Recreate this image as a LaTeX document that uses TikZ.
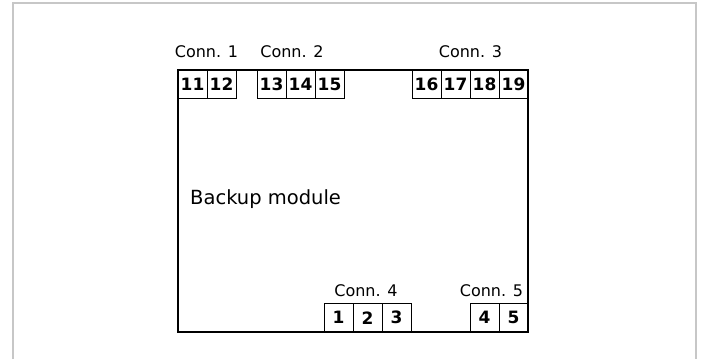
\documentclass[tikz,border=0pt]{standalone}
\usepackage{fontspec}
\setmainfont{DejaVu Sans}
\usetikzlibrary{positioning}
\tikzset{
  termcell/.style={draw, line width=0.8pt, outer sep=0pt, inner sep=0pt,
    minimum width=29pt, minimum height=28.5pt,
    font=\fontsize{17}{17}\selectfont\bfseries},
  connlabel/.style={anchor=base, font=\fontsize{16}{16}\selectfont}
}
\begin{document}
\begin{tikzpicture}[x=1pt,y=-1pt]
   \useasboundingbox (0,0) rectangle (701,359);
   \draw[line width=1.5pt, color=black!22] (13,359) -- (13,3) -- (696,3) -- (696,359);
   \draw[line width=1.2pt] (178,70) rectangle (528,332);
   \node[anchor=base west, inner sep=0pt, font=\fontsize{19.5}{19.5}\selectfont] (module) at (190,204) {Backup module};
   % top row
   \node[termcell] (t11) at (192.5,84.25) {11};
   \node[termcell, right=0pt of t11] (t12) {12};
   \node[termcell] (t13) at (271.5,84.25) {13};
   \node[termcell, right=0pt of t13] (t14) {14};
   \node[termcell, right=0pt of t14] (t15) {15};
   \node[termcell] (t16) at (426.5,84.25) {16};
   \node[termcell, right=0pt of t16] (t17) {17};
   \node[termcell, right=0pt of t17] (t18) {18};
   \node[termcell, right=0pt of t18] (t19) {19};
   % bottom row
   \node[termcell] (t1) at (338.5,317.75) {1};
   \node[termcell, right=0pt of t1] (t2) {2};
   \node[termcell, right=0pt of t2] (t3) {3};
   \node[termcell] (t4) at (484.5,317.75) {4};
   \node[termcell, right=0pt of t4] (t5) {5};
   % labels
   \node[connlabel] (conn1) at (206.5,57.5) {Conn. 1};
   \node[connlabel] (conn2) at (292,57.5) {Conn. 2};
   \node[connlabel] (conn3) at (470.5,57.5) {Conn. 3};
   \node[connlabel] (conn4) at (366,296.7) {Conn. 4};
   \node[connlabel] (conn5) at (491.5,296.7) {Conn. 5};
\end{tikzpicture}
\end{document}
